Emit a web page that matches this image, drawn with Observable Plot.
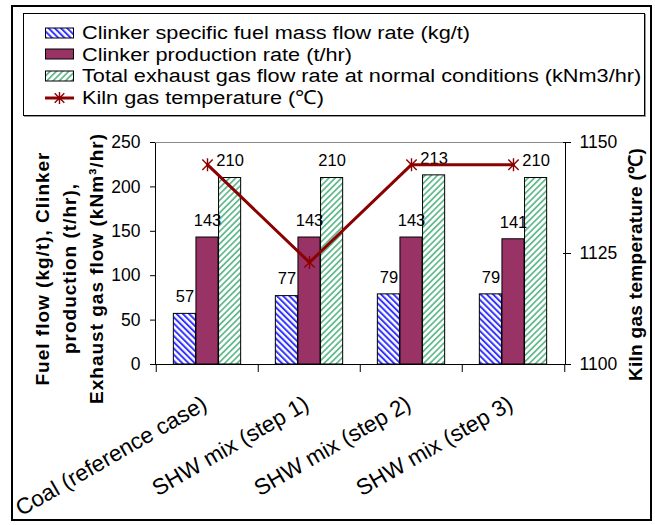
<!DOCTYPE html>
<html><head><meta charset="utf-8">
<script src="https://cdn.jsdelivr.net/npm/d3@7"></script>
<script src="https://cdn.jsdelivr.net/npm/@observablehq/plot@0.6"></script>
<style>
body{margin:0;background:#fff;font-family:"Liberation Sans",Arial,sans-serif;}
#wrap{position:relative;width:655px;height:525px;overflow:hidden;background:#fff;}
#frame{position:absolute;left:11px;top:5px;width:637px;height:512px;border:2px solid #000;pointer-events:none;}
#legend{position:absolute;left:23px;top:13px;width:620px;height:101px;border:1px solid #000;box-shadow:1px 1px 0 #999;background:#fff;}
.row{position:absolute;left:21px;height:21px;line-height:21px;font-size:19.2px;white-space:nowrap;display:flex;align-items:center;color:#000;}
.row svg{margin-right:8px;flex:none;}
.row span{display:inline-block;transform:scaleX(1.13);transform-origin:0 50%;}
#chart{position:absolute;left:0;top:120px;}
</style></head><body>
<div id="wrap"><div id="legend"></div><div id="chart"></div><div id="frame"></div></div>
<script>
// ---- data ----
const categories = ["Coal (reference case)", "SHW mix (step 1)", "SHW mix (step 2)", "SHW mix (step 3)"];
const fuelFlow = [57, 77, 79, 79];
const production = [143, 143, 143, 141];
const exhaustFlow = [210, 210, 213, 210];
const kilnTemp = [1145, 1123, 1145, 1145];
const leftTicks = [0, 50, 100, 150, 200, 250];
const rightTicks = [1100, 1125, 1150];
const seriesNames = [
  "Clinker specific fuel mass flow rate (kg/t)",
  "Clinker production rate (t/hr)",
  "Total exhaust gas flow rate at normal conditions (kNm3/hr)",
  "Kiln gas temperature (\u2103)"
];
const leftTitle = "Fuel flow (kg/t), Clinker\nproduction (t/hr),\nExhaust gas flow (kNm\u00b3/hr)";
const rightTitle = "Kiln gas temperature (\u2103)";

// ---- styles ----
const BLUE = "#3434ff", PURPLE = "#993366", GREEN = "#5fb98a", LINE = "#8b0000";
const W = 655, H = 405, ML = 155, MR = 90, MT = 22, MB = 161;
const bw = (W - ML - MR) / categories.length;
const barW = 22.6;
const g0 = (bw - 3 * barW) / 2;

// temperature axis mapped onto left scale (1100..1150 -> 0..250)
const toLeft = t => (t - 1100) * 5;
const fromLeft = v => 1100 + v / 5;

const rows = (vals, s) => categories.map((c, i) => ({cat: c, value: vals[i], series: s}));
const fuelData = rows(fuelFlow, 0), prodData = rows(production, 1), exhData = rows(exhaustFlow, 2);
const tempData = categories.map((c, i) => ({cat: c, t: kilnTemp[i]}));

const star = {
  draw(ctx, size) {
    const r = Math.sqrt(size / Math.PI), d = r * 0.8;
    ctx.moveTo(0, -r); ctx.lineTo(0, r);
    ctx.moveTo(-d, -d); ctx.lineTo(d, d);
    ctx.moveTo(-d, d); ctx.lineTo(d, -d);
  }
};

const barOpts = (k, fill) => ({
  x: "cat", y: "value", fill, stroke: "black", strokeWidth: 1,
  insetLeft: g0 + k * barW, insetRight: bw - g0 - (k + 1) * barW
});
const labelOpts = k => ({
  x: "cat", y: "value", text: d => String(d.value), dx: (k - 1) * barW, dy: -17,
  fontSize: 16.5, fill: "black"
});

const svg = Plot.plot({
  width: W, height: H,
  marginLeft: ML, marginRight: MR, marginTop: MT, marginBottom: MB,
  style: {fontFamily: "'Liberation Sans', Arial, sans-serif", fontSize: "17px", background: "white", overflow: "visible"},
  x: {type: "band", domain: categories, padding: 0, label: null, axis: null},
  y: {domain: [0, 250], label: null, axis: null},
  marks: [
    Plot.barY(fuelData, barOpts(0, "url(#hatchBlue)")),
    Plot.barY(prodData, barOpts(1, PURPLE)),
    Plot.barY(exhData, barOpts(2, "url(#hatchGreen)")),
    Plot.frame({stroke: "black"}),
    Plot.ruleY([250], {stroke: "#8a8a8a"}),
    Plot.axisY(leftTicks, {anchor: "left", tickSize: 5, tickPadding: 10, fontSize: 17.5, label: null}),
    Plot.axisY(rightTicks.map(toLeft), {anchor: "right", tickSize: 8, dx: -3, tickPadding: 9, fontSize: 17.5,
      tickFormat: v => String(fromLeft(v)), label: null}),
    Plot.axisX(categories, {anchor: "bottom", tickSize: 8, dx: -bw / 2, tickFormat: () => "", label: null}),
    Plot.axisX([categories[categories.length - 1]], {anchor: "bottom", tickSize: 8, dx: bw / 2, tickFormat: () => "", label: null}),
    Plot.text(fuelData, labelOpts(0)),
    Plot.text(prodData, labelOpts(1)),
    Plot.text(exhData, labelOpts(2)),
    Plot.line(tempData, {x: "cat", y: d => toLeft(d.t), stroke: LINE, strokeWidth: 3}),
    Plot.dot(tempData, {x: "cat", y: d => toLeft(d.t), symbol: star, r: 6.5, stroke: LINE, strokeWidth: 1.4, fill: "none"}),
    Plot.text(categories, {x: d => d, frameAnchor: "bottom", rotate: -30, textAnchor: "end", lineAnchor: "top",
      dy: 30, dx: -7, fontSize: 22.5, fill: "black"}),
    Plot.text([leftTitle], {frameAnchor: "left", rotate: -90, dx: -88, dy: 15, fontWeight: "bold", fontSize: 19,
      lineHeight: 1.42, textAnchor: "middle", lineAnchor: "middle", fill: "black"}),
    Plot.text([rightTitle], {frameAnchor: "right", rotate: -90, dx: 70, dy: 11, fontWeight: "bold", fontSize: 19,
      textAnchor: "middle", lineAnchor: "middle", fill: "black"})
  ]
});

function addPatterns(sel, prefix) {
  const defs = sel.insert("defs", ":first-child");
  const mk = (id, color, rot, sw) => {
    const p = defs.append("pattern").attr("id", prefix + id).attr("patternUnits", "userSpaceOnUse")
      .attr("width", 4.4).attr("height", 4.4).attr("patternTransform", `rotate(${rot})`);
    p.append("rect").attr("width", 4.4).attr("height", 4.4).attr("fill", "white");
    p.append("rect").attr("width", sw).attr("height", 4.4).attr("fill", color);
  };
  mk("hatchBlue", BLUE, -45, 2.0);
  mk("hatchGreen", GREEN, 45, 1.7);
}
const s = d3.select(svg);
addPatterns(s, "");
s.selectAll('g[font-weight="bold"]').each(function() {
  const t = this.textContent || "";
  d3.select(this).attr("letter-spacing", t.startsWith("Fuel") ? "1px" : "0.3px");
});
document.getElementById("chart").appendChild(svg);

// ---- legend ----
const legend = d3.select("#legend");
const swatchFills = ["url(#lghatchBlue)", PURPLE, "url(#lghatchGreen)", null];
seriesNames.forEach((name, i) => {
  const row = legend.append("div").attr("class", "row").style("top", (8 + i * 21.7) + "px");
  const sv = row.append("svg").attr("width", 29).attr("height", 14);
  if (i === 0) addPatterns(sv, "lg");
  if (swatchFills[i]) {
    sv.append("rect").attr("x", 0.5).attr("y", 2).attr("width", 28).attr("height", 10)
      .attr("fill", swatchFills[i]).attr("stroke", "black").attr("stroke-width", 1);
  } else {
    sv.append("line").attr("x1", 0).attr("x2", 29).attr("y1", 7).attr("y2", 7).attr("stroke", LINE).attr("stroke-width", 3);
    const r = 6, dd = 4.8;
    sv.append("path").attr("d", `M14.5,${7 - r}V${7 + r}M${14.5 - dd},${7 - dd}L${14.5 + dd},${7 + dd}M${14.5 - dd},${7 + dd}L${14.5 + dd},${7 - dd}`)
      .attr("stroke", LINE).attr("stroke-width", 1.4).attr("fill", "none");
  }
  row.append("span").text(name);
});
</script>
</body></html>
